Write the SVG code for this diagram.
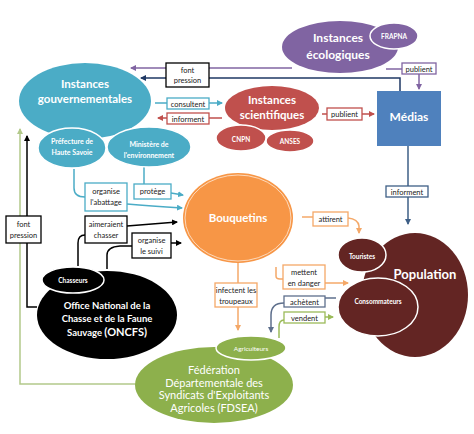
<svg xmlns="http://www.w3.org/2000/svg" width="474" height="434" viewBox="0 0 474 434">
<defs>
<style>
.t{font-family:Lato,"Open Sans","Liberation Sans",sans-serif;text-anchor:middle;}
.w{fill:#fff;font-weight:bold;}
.b{fill:#222;font-size:7.5px;}
.box{fill:#fff;stroke-width:1.3;}
.ln{fill:none;stroke-width:1.5;}
.sub{stroke:#fff;stroke-width:1.5;}
</style>
<marker id="aP" markerWidth="6" markerHeight="6" refX="5" refY="3" orient="auto" markerUnits="userSpaceOnUse"><path d="M0,0 L6,3 L0,6 z" fill="#8064a2"/></marker>
<marker id="aN" markerWidth="6" markerHeight="6" refX="5" refY="3" orient="auto" markerUnits="userSpaceOnUse"><path d="M0,0 L6,3 L0,6 z" fill="#1f3864"/></marker>
<marker id="aT" markerWidth="6" markerHeight="6" refX="5" refY="3" orient="auto" markerUnits="userSpaceOnUse"><path d="M0,0 L6,3 L0,6 z" fill="#4bacc6"/></marker>
<marker id="aR" markerWidth="6" markerHeight="6" refX="5" refY="3" orient="auto" markerUnits="userSpaceOnUse"><path d="M0,0 L6,3 L0,6 z" fill="#c0504d"/></marker>
<marker id="aS" markerWidth="6" markerHeight="6" refX="5" refY="3" orient="auto" markerUnits="userSpaceOnUse"><path d="M0,0 L6,3 L0,6 z" fill="#3e5f86"/></marker>
<marker id="aK" markerWidth="6" markerHeight="6" refX="5" refY="3" orient="auto" markerUnits="userSpaceOnUse"><path d="M0,0 L6,3 L0,6 z" fill="#000"/></marker>
<marker id="aO" markerWidth="6" markerHeight="6" refX="5" refY="3" orient="auto" markerUnits="userSpaceOnUse"><path d="M0,0 L6,3 L0,6 z" fill="#f4a868"/></marker>
<marker id="aG" markerWidth="6" markerHeight="6" refX="5" refY="3" orient="auto" markerUnits="userSpaceOnUse"><path d="M0,0 L6,3 L0,6 z" fill="#9bbb59"/></marker>
<marker id="aL" markerWidth="6" markerHeight="6" refX="5" refY="3" orient="auto" markerUnits="userSpaceOnUse"><path d="M0,0 L6,3 L0,6 z" fill="#b3c98a"/></marker>
<marker id="aV" markerWidth="6" markerHeight="6" refX="5" refY="3" orient="auto" markerUnits="userSpaceOnUse"><path d="M0,0 L6,3 L0,6 z" fill="#5e6f8c"/></marker>
</defs>
<rect width="474" height="434" fill="#fff"/>

<g id="connectors">
<path class="ln" d="M292,68 H131" stroke="#8064a2" marker-end="url(#aP)"/>
<path class="ln" d="M400,91 V78 H141" stroke="#1f3864" marker-end="url(#aN)"/>
<path class="ln" d="M386,69 H402" stroke="#8064a2"/>
<path class="ln" d="M419,74 V89" stroke="#8064a2" marker-end="url(#aP)"/>
<path class="ln" d="M155,103 H167 M209,103 H222" stroke="#4bacc6" marker-end="url(#aT)"/>
<path class="ln" d="M222,118 H209 M167,118 H158" stroke="#c0504d" marker-end="url(#aR)"/>
<path class="ln" d="M322,114 H327 M362,114 H374" stroke="#c0504d" marker-end="url(#aR)"/>
<path class="ln" d="M408,146 V224" stroke="#3e5f86" stroke-width="2" fill="none" marker-end="url(#aS)"/>
<path class="ln" d="M74,169 V188 Q74,197 85,197" stroke="#4bacc6"/>
<path class="ln" d="M127,204 Q150,206 182,208" stroke="#4bacc6" marker-end="url(#aT)"/>
<path class="ln" d="M144,167 V184" stroke="#4bacc6"/>
<path class="ln" d="M171,193 L183,195" stroke="#4bacc6" marker-end="url(#aT)"/>
<path class="ln" d="M78,266 V243 Q78,235 85,235" stroke="#000"/>
<path class="ln" d="M127,226 L177,222" stroke="#000" marker-end="url(#aK)"/>
<path class="ln" d="M107,269 V255 Q107,247 120,246 H132" stroke="#000"/>
<path class="ln" d="M171,243 H181" stroke="#000" marker-end="url(#aK)"/>
<path class="ln" d="M37,307 H27 V136" stroke="#000" marker-end="url(#aK)"/>
<path class="ln" d="M136,384 H20 V129" stroke="#b3c98a" marker-end="url(#aL)"/>
<path class="ln" d="M302,217 H313" stroke="#f4a868"/>
<path class="ln" d="M348,218 Q358,219 359,226 V233" stroke="#f4a868" marker-end="url(#aO)"/>
<path class="ln" d="M276,267 V276 Q276,279 280,279 H283" stroke="#f4a868"/>
<path class="ln" d="M325,283 H348" stroke="#f4a868" marker-end="url(#aO)"/>
<path class="ln" d="M238,263 V283" stroke="#f4a868"/>
<path class="ln" d="M238,307 V330" stroke="#f4a868" marker-end="url(#aO)"/>
<path class="ln" d="M336,298 H325" stroke="#5e6f8c"/>
<path class="ln" d="M284,303 Q271,303 271,315 V332" stroke="#5e6f8c" marker-end="url(#aV)"/>
<path class="ln" d="M325,317 H333" stroke="#9bbb59" marker-end="url(#aG)"/>
<path class="ln" d="M284,320 Q279,320 279,327 V338" stroke="#9bbb59"/>
</g>

<g id="labels">
<rect class="box" x="166" y="63" width="43" height="24" stroke="#000"/>
<text class="t b" x="187.5" y="73">font</text><text class="t b" x="187.5" y="83">pression</text>
<rect class="box" x="402" y="63" width="34" height="11" stroke="#8064a2"/>
<text class="t b" x="419" y="71.5">publient</text>
<rect class="box" x="167" y="98" width="42" height="11" stroke="#4bacc6"/>
<text class="t b" x="188" y="106.5">consultent</text>
<rect class="box" x="167" y="113" width="42" height="11" stroke="#c0504d"/>
<text class="t b" x="188" y="121.5">informent</text>
<rect class="box" x="327" y="108" width="35" height="12" stroke="#c0504d"/>
<text class="t b" x="344.5" y="117">publient</text>
<rect class="box" x="386" y="186" width="42" height="11" stroke="#3e5f86"/>
<text class="t b" x="407" y="194.5">informent</text>
<rect class="box" x="85" y="183" width="42" height="28" stroke="#4bacc6"/>
<text class="t b" x="106" y="194">organise</text><text class="t b" x="106" y="205">l'abattage</text>
<rect class="box" x="134" y="184" width="37" height="15" stroke="#4bacc6"/>
<text class="t b" x="152.5" y="194">protège</text>
<rect class="box" x="85" y="216" width="42" height="27" stroke="#000"/>
<text class="t b" x="106" y="226.5">aimeraient</text><text class="t b" x="106" y="237.5">chasser</text>
<rect class="box" x="132" y="233" width="39" height="25" stroke="#000"/>
<text class="t b" x="151.5" y="243">organise</text><text class="t b" x="151.5" y="254">le suivi</text>
<rect class="box" x="6" y="216" width="35" height="27" stroke="#000"/>
<text class="t b" x="23.5" y="226.5">font</text><text class="t b" x="23.5" y="237.5">pression</text>
<rect class="box" x="313" y="212" width="35" height="14" stroke="#f4a868"/>
<text class="t b" x="330.5" y="221.5">attirent</text>
<rect class="box" x="283" y="265" width="42" height="24" stroke="#f4a868"/>
<text class="t b" x="304" y="275">mettent</text><text class="t b" x="304" y="285.5">en danger</text>
<rect class="box" x="215" y="283" width="42" height="24" stroke="#f4a868"/>
<text class="t b" x="236" y="293">infectent les</text><text class="t b" x="236" y="303.5">troupeaux</text>
<rect class="box" x="284" y="296" width="41" height="11" stroke="#5e6f8c"/>
<text class="t b" x="304.5" y="304.5">achètent</text>
<rect class="box" x="284" y="312" width="41" height="11" stroke="#9bbb59"/>
<text class="t b" x="304.5" y="320.5">vendent</text>
</g>

<g id="ecologiques">
<ellipse cx="340" cy="47" rx="58" ry="26" fill="#8064a2"/>
<ellipse class="sub" cx="394" cy="36" rx="24" ry="13" fill="#8064a2"/>
<text class="t w" x="338" y="42" font-size="12">Instances</text>
<text class="t w" x="338" y="59" font-size="12">écologiques</text>
<text class="t w" x="394" y="39" font-size="6.5">FRAPNA</text>
</g>

<g id="medias">
<rect x="377" y="91" width="64" height="55" fill="#4f81bd"/>
<text class="t w" x="409" y="121" font-size="12">Médias</text>
</g>

<g id="gouvernementales">
<ellipse cx="85" cy="101" rx="66" ry="38" fill="#4bacc6"/>
<text class="t w" x="85" y="88" font-size="11.5">Instances</text>
<text class="t w" x="85" y="103" font-size="11.5">gouvernementales</text>
</g>
<g id="prefecture">
<ellipse class="sub" cx="72" cy="148" rx="34" ry="20" fill="#4bacc6"/>
<text class="t w" x="72" y="144" font-size="7">Préfecture de</text>
<text class="t w" x="72" y="155" font-size="7">Haute Savoie</text>
</g>
<g id="ministere">
<ellipse class="sub" cx="149" cy="147" rx="42" ry="20" fill="#4bacc6"/>
<text class="t w" x="149" y="147" font-size="7">Ministère de</text>
<text class="t w" x="149" y="158" font-size="7">l'environnement</text>
</g>

<g id="scientifiques">
<ellipse cx="272" cy="108" rx="47" ry="22" fill="#c0504d"/>
<text class="t w" x="272" y="104" font-size="11.5">Instances</text>
<text class="t w" x="272" y="119" font-size="11.5">scientifiques</text>
</g>
<g id="cnpn">
<ellipse class="sub" cx="241" cy="138" rx="25" ry="13" fill="#c0504d"/>
<text class="t w" x="241" y="142" font-size="6.5">CNPN</text>
</g>
<g id="anses">
<ellipse class="sub" cx="290" cy="141" rx="24" ry="11" fill="#c0504d"/>
<text class="t w" x="290" y="144" font-size="6.5">ANSES</text>
</g>

<g id="bouquetins">
<ellipse cx="238" cy="218" rx="55" ry="45" fill="#f79646"/>
<ellipse cx="238" cy="218" rx="53" ry="43" fill="none" stroke="#fff" stroke-width="0.8" opacity="0.8"/>
<text class="t w" x="238" y="222" font-size="11.5">Bouquetins</text>
</g>

<g id="oncfs">
<ellipse cx="107" cy="315" rx="70" ry="44" fill="#000"/>
<text class="t w" x="107" y="309" font-size="9.5">Office National de la</text>
<text class="t w" x="107" y="322" font-size="9.5">Chasse et de la Faune</text>
<text class="t w" x="107" y="336" font-size="9.5">Sauvage <tspan font-size="11">(ONCFS)</tspan></text>
</g>
<g id="chasseurs">
<ellipse class="sub" cx="73" cy="280" rx="31" ry="13" fill="#000"/>
<text class="t w" x="73" y="283" font-size="6.5">Chasseurs</text>
</g>

<g id="population">
<ellipse cx="415" cy="295" rx="53" ry="62" fill="#632523"/>
<text class="t w" x="425" y="279" font-size="13">Population</text>
</g>
<g id="touristes">
<ellipse class="sub" cx="362" cy="255" rx="24" ry="17" fill="#632523"/>
<text class="t w" x="362" y="259" font-size="6.5">Touristes</text>
</g>
<g id="consommateurs">
<ellipse class="sub" cx="378" cy="307" rx="40" ry="29" fill="#632523"/>
<text class="t w" x="378" y="304" font-size="6.5">Consommateurs</text>
</g>

<g id="fdsea">
<ellipse cx="214" cy="385" rx="79" ry="38" fill="#8db04c"/>
<text class="t" x="214" y="374" font-size="11" fill="#fff">Fédération</text>
<text class="t" x="214" y="387" font-size="11" fill="#fff">Départementale des</text>
<text class="t" x="214" y="399" font-size="11" fill="#fff">Syndicats d'Exploitants</text>
<text class="t" x="214" y="412" font-size="11" fill="#fff">Agricoles (FDSEA)</text>
</g>
<g id="agriculteurs">
<ellipse class="sub" cx="251" cy="348" rx="35" ry="12" fill="#8db04c"/>
<text class="t" x="251" y="351" font-size="6.5" fill="#fff">Agriculteurs</text>
</g>
</svg>
